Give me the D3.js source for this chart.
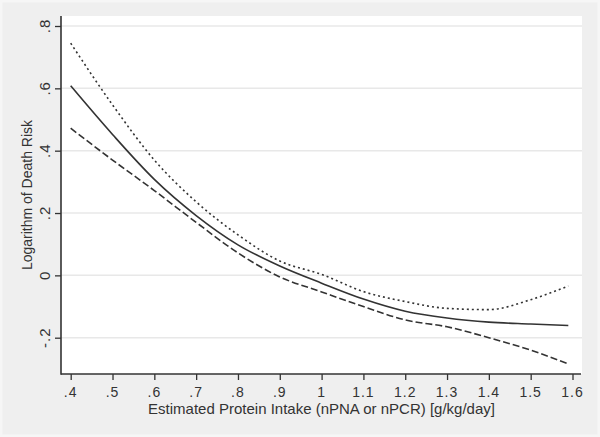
<!DOCTYPE html>
<html><head><meta charset="utf-8">
<script src="https://cdn.jsdelivr.net/npm/d3@7"></script>
<style>html,body{margin:0;padding:0;background:#efefef;}svg{display:block;}</style>
</head><body>
<svg id="c" width="600" height="437"></svg>
<script>
const xValues = [0.4,0.5,0.6,0.7,0.8,0.9,1.0,1.1,1.2,1.3,1.4,1.5,1.59];
const estimate = [0.608,0.452,0.308,0.192,0.098,0.030,-0.025,-0.076,-0.115,-0.137,-0.150,-0.156,-0.161];
const upperCI = [0.745,0.547,0.370,0.236,0.130,0.046,0.003,-0.052,-0.084,-0.106,-0.110,-0.078,-0.034];
const lowerCI = [0.472,0.370,0.272,0.170,0.072,-0.005,-0.053,-0.100,-0.143,-0.165,-0.200,-0.240,-0.284];
const xTicks = [0.4,0.5,0.6,0.7,0.8,0.9,1.0,1.1,1.2,1.3,1.4,1.5,1.6];
const yTicks = [-0.2,0,0.2,0.4,0.6,0.8];
const xTitle = "Estimated Protein Intake (nPNA or nPCR) [g/kg/day]";
const yTitle = "Logarithm of Death Risk";

const svg = d3.select("#c");
const W = 600, H = 437;
const L = 61, R = 582, T = 16, B = 374;
const fmt = v => { if (v === 0) return "0"; let s = String(+v.toFixed(2)); return s.replace(/^0\./, ".").replace(/^-0\./, "-."); };

svg.append("rect").attr("x",1).attr("y",1).attr("width",W-2).attr("height",H-2)
  .attr("fill","#efefef").attr("stroke","#f6f6f6").attr("stroke-width",3);
svg.append("rect").attr("x",L).attr("y",T).attr("width",R-L).attr("height",B-T).attr("fill","#ffffff");

const x = d3.scaleLinear().domain([0.4,1.6]).range([70.7,572.5]);
const y = d3.scaleLinear().domain([-0.2,0.8]).range([337.7,26]);

// gridlines
svg.append("g").selectAll("line").data(yTicks).join("line")
  .attr("x1",L).attr("x2",R).attr("y1",d=>y(d)).attr("y2",d=>y(d))
  .attr("stroke","#e8e8e8").attr("stroke-width",1.5);

const font = "'Liberation Sans', Arial, sans-serif";

// axes
const xAxis = svg.append("g").attr("transform",`translate(0,${B})`)
  .call(d3.axisBottom(x).tickValues(xTicks).tickSize(6).tickFormat(""));
const yAxis = svg.append("g").attr("transform",`translate(${L},0)`)
  .call(d3.axisLeft(y).tickValues(yTicks).tickSize(6).tickFormat(""));
[xAxis,yAxis].forEach(a=>{
  a.select(".domain").remove();
  a.selectAll(".tick line").attr("stroke","#333").attr("stroke-width",1.3);
});
svg.append("line").attr("x1",L).attr("x2",L).attr("y1",T).attr("y2",B+0.7).attr("stroke","#333").attr("stroke-width",1.6);
svg.append("line").attr("x1",L).attr("x2",R-1).attr("y1",B).attr("y2",B).attr("stroke","#333").attr("stroke-width",1.6);

// x tick labels
svg.append("g").selectAll("text").data(xTicks).join("text")
  .attr("transform",d=>`translate(${x(d)},396.5)`)
  .attr("text-anchor","middle").attr("font-family",font).attr("font-size",14).attr("fill","#333")
  .attr("letter-spacing",1).text(fmt);
// y tick labels
svg.append("g").selectAll("text").data(yTicks).join("text")
  .attr("transform",d=>`translate(50,${y(d)}) rotate(-90)`)
  .attr("text-anchor","middle").attr("font-family",font).attr("font-size",15).attr("fill","#333")
  .attr("letter-spacing",1).text(fmt);
// titles
svg.append("text").attr("transform",`translate(${(L+R)/2},414)`)
  .attr("text-anchor","middle").attr("font-family",font).attr("font-size",15).attr("fill","#333")
  .text(xTitle);
svg.append("text").attr("transform",`translate(32,${(T+B)/2}) rotate(-90)`)
  .attr("text-anchor","middle").attr("font-family",font).attr("font-size",14).attr("fill","#333")
  .text(yTitle);

// lines
const line = d3.line().x(d=>x(d[0])).y(d=>y(d[1])).curve(d3.curveMonotoneX);
const series = [
  {v: upperCI, dash: "2,3"},
  {v: estimate, dash: null},
  {v: lowerCI, dash: "7,3"}
];
series.forEach(s=>{
  svg.append("path").datum(xValues.map((xv,i)=>[xv,s.v[i]]))
    .attr("d",line).attr("fill","none").attr("stroke","#333").attr("stroke-width",1.6)
    .attr("stroke-dasharray",s.dash);
});
</script>
</body></html>
